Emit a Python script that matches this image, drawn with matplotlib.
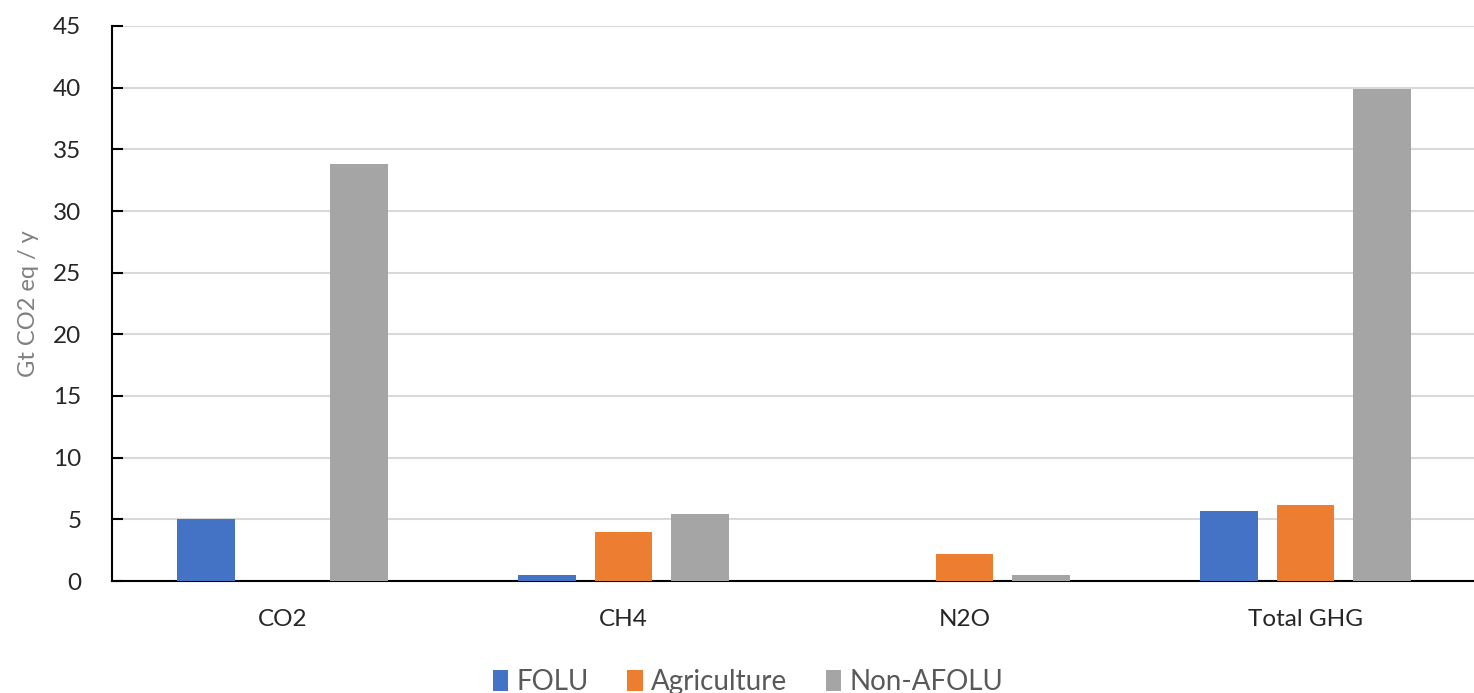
import numpy as np
import matplotlib.pyplot as plt

plt.rcParams["font.family"] = ["Lato", "DejaVu Sans"]

# emissions by gas and source, Gt CO2 eq / y
gases = ["CO2", "CH4", "N2O", "Total GHG"]
folu = [5.0, 0.45, 0.0, 5.7]
agriculture = [0.0, 3.95, 2.2, 6.15]
non_afolu = [33.8, 5.45, 0.45, 39.9]

series = [("FOLU", folu, "#4472C4"),
          ("Agriculture", agriculture, "#ED7D31"),
          ("Non-AFOLU", non_afolu, "#A5A5A5")]

fig = plt.figure(figsize=(14.74, 6.93), dpi=100)
ax = fig.add_axes([112 / 1474, 1 - 581 / 693, 1364 / 1474, 555 / 693])

x = np.arange(len(gases))
width = 0.17
step = 0.224
for i, (name, vals, color) in enumerate(series):
    ax.bar(x + (i - 1) * step, vals, width, color=color, label=name, zorder=3)

ax.set_xlim(-0.5, len(gases) - 0.5)
ax.set_ylim(0, 45)
ax.set_yticks(np.arange(0, 46, 5))
ax.set_xticks(x)
ax.set_xticklabels(gases)
ax.yaxis.grid(True, color="#D9D9D9", linewidth=1.5, zorder=0)

for side in ["top", "right"]:
    ax.spines[side].set_visible(False)
ax.spines["left"].set_linewidth(1.5)
ax.spines["bottom"].set_linewidth(1.5)
ax.tick_params(axis="y", direction="in", length=8, width=1.5, labelsize=17.5,
               labelcolor="#262626", pad=22)
ax.tick_params(axis="x", length=0, labelsize=17.5, labelcolor="#262626", pad=20)

ax.set_ylabel("Gt CO2 eq / y", fontsize=17, color="#808080", labelpad=10)

fig.legend(loc="center", bbox_to_anchor=(748 / 1474, 1 - 682 / 693), ncol=3,
           frameon=False, fontsize=20, labelcolor="#595959",
           handlelength=0.55, handleheight=0.8, handletextpad=0.3,
           columnspacing=1.4)

fig.savefig("out.png", dpi=100)
